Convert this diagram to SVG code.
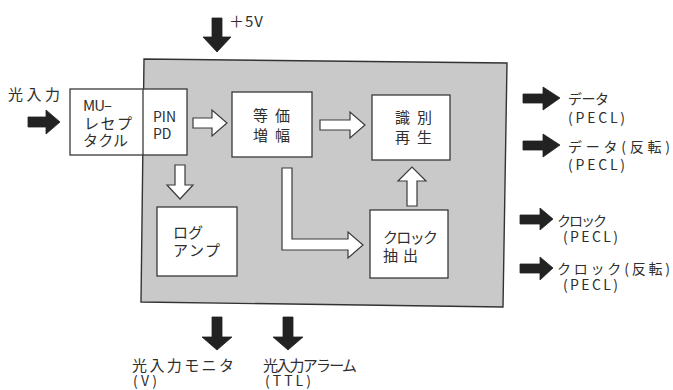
<svg xmlns="http://www.w3.org/2000/svg" width="673" height="390" viewBox="0 0 673 390">
<style>
text{font-family:"Noto Sans CJK JP","Noto Sans",sans-serif;fill:#2e2e2e;font-size:15px}
.box{fill:#fff;stroke:#3a3a3a;stroke-width:1.3}
.hollow{fill:#fff;stroke:#3a3a3a;stroke-width:1.2;stroke-linejoin:miter}
.solid{fill:#222;stroke:#222;stroke-width:0.8}
.sm{font-size:14px}
</style>
<rect width="673" height="390" fill="#fff"/>
<g id="module">
<polygon points="144,59 507,63 503,307 141,302" fill="#c9c9c9" stroke="#333" stroke-width="1.4"/>
</g>
<g id="receptacle">
<rect class="box" x="70" y="89" width="117" height="66"/>
<line x1="143" y1="89" x2="143" y2="155" stroke="#3a3a3a" stroke-width="1.3"/>
<text x="83" y="111" textLength="29">MU–</text>
<text x="84" y="129" textLength="48">レセプ</text>
<text x="83" y="146" textLength="45">タクル</text>
<text class="sm" x="153" y="122">PIN</text>
<text class="sm" x="153" y="139">PD</text>
</g>
<g id="eqamp">
<rect class="box" x="232" y="92" width="80" height="65"/>
<text x="253" y="121" textLength="37">等価</text>
<text x="253" y="141" textLength="37">増幅</text>
</g>
<g id="regen">
<rect class="box" x="372" y="95" width="78" height="65"/>
<text x="395" y="123" textLength="37">識別</text>
<text x="395" y="143" textLength="37">再生</text>
</g>
<g id="clock">
<rect class="box" x="370" y="210" width="78" height="68"/>
<text x="383" y="243" textLength="55">クロック</text>
<text x="383" y="261" textLength="35">抽出</text>
</g>
<g id="logamp">
<rect class="box" x="157" y="207" width="80" height="69"/>
<text x="173" y="238" textLength="30">ログ</text>
<text x="173" y="256" textLength="47">アンプ</text>
</g>
<g id="labels">
<text x="8" y="100" font-size="16" textLength="52">光入力</text>
<text x="229" y="27" font-size="12" textLength="34">＋5V</text>
<text class="sm" x="568" y="104" textLength="41">データ</text>
<text class="sm" x="568" y="123" textLength="57">(PECL)</text>
<text class="sm" x="568" y="152" textLength="102">データ(反転)</text>
<text class="sm" x="568" y="170" textLength="57">(PECL)</text>
<text class="sm" x="557" y="226" textLength="50">クロック</text>
<text class="sm" x="563" y="242" textLength="55">(PECL)</text>
<text class="sm" x="557" y="274" textLength="113">クロック(反転)</text>
<text class="sm" x="563" y="290" textLength="55">(PECL)</text>
<text x="132" y="371" textLength="102">光入力モニタ</text>
<text class="sm" x="133" y="386" textLength="24">(V)</text>
<text x="263" y="371" textLength="94">光入力アラーム</text>
<text class="sm" x="265" y="386" textLength="46">(TTL)</text>
</g>
<g id="connectors">
<path class="hollow" d="M193,118 L212,118 L212,110 L227,123 L212,136 L212,128 L193,128 Z"/>
<path class="hollow" d="M320,120 L350,120 L350,112 L365,125 L350,138 L350,130 L320,130 Z"/>
<path class="hollow" d="M407,206 L407,181 L398,181 L412,167 L426,181 L417,181 L417,206 Z"/>
<path class="hollow" d="M175,165 L185,165 L185,185 L193,185 L180,199 L167,185 L175,185 Z"/>
<path class="hollow" d="M282,168 L292,168 L292,239 L348,239 L348,232 L363,245 L348,258 L348,250 L282,250 Z"/>
<path class="solid" d="M28,117 L46,117 L46,110 L60,122 L46,134 L46,127 L28,127 Z"/>
<path class="solid" d="M212,18 L222,18 L222,37 L231,37 L217,52 L203,37 L212,37 Z"/>
<path class="solid" d="M523,94 L543,94 L543,87 L560,98 L543,110 L543,103 L523,103 Z"/>
<path class="solid" d="M523,141 L543,141 L543,134 L560,145 L543,157 L543,150 L523,150 Z"/>
<path class="solid" d="M520,215 L540,215 L540,208 L553,219 L540,230 L540,224 L520,224 Z"/>
<path class="solid" d="M520,264 L540,264 L540,257 L553,268 L540,280 L540,273 L520,273 Z"/>
<path class="solid" d="M212,317 L222,317 L222,337 L232,337 L217,350 L202,337 L212,337 Z"/>
<path class="solid" d="M283,317 L293,317 L293,337 L303,337 L288,350 L273,337 L283,337 Z"/>
</g>
</svg>
